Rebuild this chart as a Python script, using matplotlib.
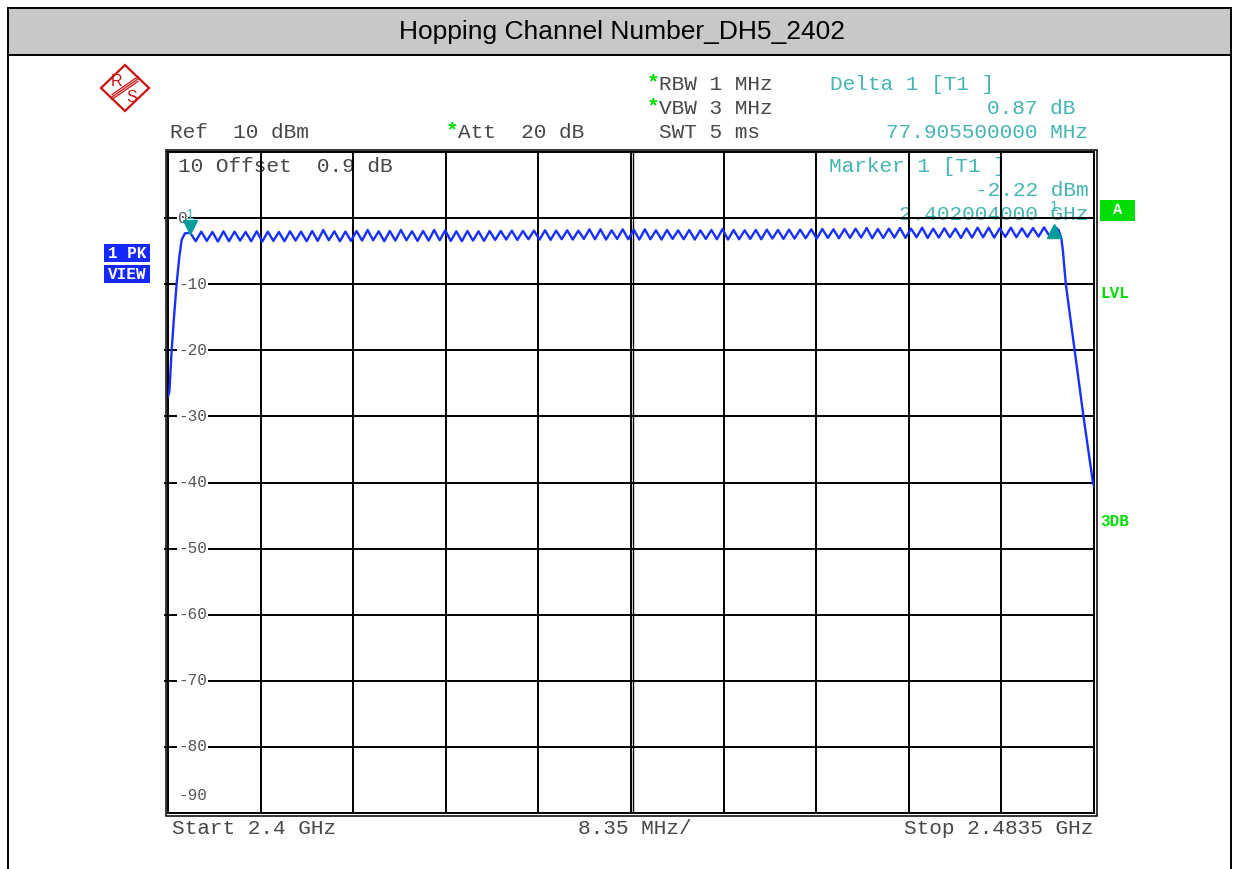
import numpy as np
import matplotlib.pyplot as plt
import matplotlib.transforms as transforms
from matplotlib.patches import Rectangle, Polygon

W, H = 1239, 869

# sweep settings (MHz / dBm)
START_MHZ = 2400.0
STOP_MHZ = 2483.5
REF_LEVEL = 10
BOTTOM_LEVEL = -90

# rising edge below the first channel
edge_left_f = [2400.0, 2400.12, 2400.33, 2400.54, 2400.78, 2401.02, 2401.23, 2401.53]
edge_left_db = [-27.0, -26.3, -20.0, -15.0, -9.9, -5.9, -3.3, -2.3]

# hopping channels 2402..2480 MHz, peak level of each channel
channel_f = list(range(2402, 2481))
peak_db = [-2.22, -2.05, -2.10, -2.00, -2.05, -2.10, -2.00, -2.05, -2.10, -2.00,
           -2.05, -1.95, -1.80, -2.00, -2.05, -1.95, -1.80, -2.00, -1.95, -1.80,
           -2.00, -1.95, -1.80, -1.85, -2.00, -1.95, -2.00, -1.95, -1.95, -1.90,
           -1.95, -1.90, -1.85, -1.90, -1.85, -1.90, -1.70, -1.70, -1.85, -1.70,
           -1.75, -1.70, -1.85, -1.80, -1.85, -1.80, -1.85, -1.80, -1.65, -1.80,
           -1.85, -1.80, -1.75, -1.80, -1.75, -1.75, -1.70, -1.65, -1.70, -1.65,
           -1.60, -1.50, -1.65, -1.60, -1.50, -1.60, -1.45, -1.60, -1.55, -1.60,
           -1.55, -1.45, -1.45, -1.55, -1.45, -1.55, -1.50, -1.40, -1.35]
# level in the gaps between neighbouring channels
dip_db = [-3.50, -3.45, -3.55, -3.50, -3.40, -3.50, -3.55, -3.45, -3.50, -3.40,
          -3.50, -3.45, -3.35, -3.50, -3.45, -3.40, -3.35, -3.50, -3.40, -3.35,
          -3.45, -3.40, -3.35, -3.45, -3.50, -3.40, -3.45, -3.30, -3.25, -3.30,
          -3.20, -3.25, -3.30, -3.20, -3.25, -3.15, -3.20, -3.25, -3.15, -3.20,
          -3.25, -3.20, -3.25, -3.15, -3.20, -3.25, -3.15, -3.20, -3.25, -3.20,
          -3.15, -3.20, -3.10, -3.15, -3.10, -3.05, -3.10, -3.00, -3.05, -3.00,
          -2.95, -3.05, -3.00, -2.95, -3.00, -2.90, -3.00, -2.95, -2.90, -3.00,
          -2.95, -2.90, -2.95, -2.85, -2.90, -2.85, -2.80, -2.75]

# falling edge above the last channel
edge_right_f = [2480.3, 2480.55, 2480.7, 2480.96, 2481.75, 2482.1, 2482.55, 2483.42, 2483.5]
edge_right_db = [-1.8, -3.0, -5.0, -10.0, -20.0, -24.5, -30.0, -40.2, -40.5]

# markers
m1_f, m1_db = 2402.004, -2.22
delta_f, delta_db = 2402.004 + 77.9055, -2.22 + 0.87

ytick_levels = [0, -10, -20, -30, -40, -50, -60, -70, -80]

# colours
GRAY_TXT = "#474747"
TEAL = "#44b4b4"
MARK_TEAL = "#009c9c"
GREEN = "#00dd00"
BLUE_BOX = "#1428ff"
TRACE = "#1530ff"


def buildTrace():
    f = list(edge_left_f)
    db = list(edge_left_db)
    for i in range(len(channel_f)):
        f.append(channel_f[i])
        db.append(peak_db[i])
        if i < len(dip_db):
            f.append(channel_f[i] + 0.5)
            db.append(dip_db[i])
    f += edge_right_f
    db += edge_right_db
    return np.array(f), np.array(db)


fig = plt.figure(figsize=(W / 100, H / 100), dpi=100)
# pixel coordinates, origin top-left
px = transforms.Affine2D().scale(1 / W, -1 / H).translate(0, 1) + fig.transFigure

MONO = "Liberation Mono"
SANS = "Liberation Sans"

# title bar and page frame
fig.patches.append(Rectangle((8, 8), W - 16, 47, transform=px, facecolor="#c8c8c8",
                             edgecolor="black", lw=1.4))
fig.lines.append(plt.Line2D([8, 8], [55, H], transform=px, color="black", lw=1.4))
fig.lines.append(plt.Line2D([W - 8, W - 8], [55, H], transform=px, color="black", lw=1.4))
fig.text(622, 32, "Hopping Channel Number_DH5_2402", transform=px, ha="center", va="center",
         fontsize=19, family=SANS, color="black")

# R&S logo
logo_red = "#cc1010"
fig.patches.append(Polygon([(101, 88), (125, 65), (149, 88), (125, 111)], closed=True,
                           transform=px, fill=False, edgecolor=logo_red, lw=1.6))
for d in (-2.4, 0, 2.4):
    fig.lines.append(plt.Line2D([112, 138], [97 + d, 79 + d], transform=px,
                                color=logo_red, lw=0.9))
fig.text(117, 81, "R", transform=px, ha="center", va="center", fontsize=11.5,
         family=SANS, color=logo_red)
fig.text(132, 97, "S", transform=px, ha="center", va="center", fontsize=11.5,
         family=SANS, color=logo_red)

# header settings
FS = 15.2
fig.text(170, 132, "Ref  10 dBm", transform=px, va="center", fontsize=FS, family=MONO, color=GRAY_TXT)
for y, s in ((84, "RBW 1 MHz"), (108, "VBW 3 MHz")):
    fig.text(647, y - 1, "*", transform=px, va="center", fontsize=FS, family=MONO, color=GREEN,
             fontweight="bold")
    fig.text(659, y, s, transform=px, va="center", fontsize=FS, family=MONO, color=GRAY_TXT)
fig.text(446, 131, "*", transform=px, va="center", fontsize=FS, family=MONO, color=GREEN,
         fontweight="bold")
fig.text(458, 132, "Att  20 dB", transform=px, va="center", fontsize=FS, family=MONO, color=GRAY_TXT)
fig.text(659, 132, "SWT 5 ms", transform=px, va="center", fontsize=FS, family=MONO, color=GRAY_TXT)

fig.text(830, 84, "Delta 1 [T1 ]", transform=px, va="center", fontsize=FS, family=MONO, color=TEAL)
fig.text(1075, 108, "%.2f dB" % (delta_db - m1_db), transform=px, va="center", ha="right",
         fontsize=FS, family=MONO, color=TEAL)
fig.text(1088, 132, "%.9f MHz" % (delta_f - m1_f), transform=px, va="center", ha="right",
         fontsize=FS, family=MONO, color=TEAL)

# bottom annotation
fig.text(172, 829, "Start 2.4 GHz", transform=px, va="center", fontsize=FS, family=MONO, color=GRAY_TXT)
fig.text(578, 829, "8.35 MHz/", transform=px, va="center", fontsize=FS, family=MONO, color=GRAY_TXT)
fig.text(1093, 829, "Stop 2.4835 GHz", transform=px, va="center", ha="right", fontsize=FS,
         family=MONO, color=GRAY_TXT)

# side tags
for y0, s in ((244, "1 PK"), (265, "VIEW")):
    fig.patches.append(Rectangle((104, y0), 46, 18, transform=px, facecolor=BLUE_BOX, edgecolor="none"))
    fig.text(127, y0 + 9.5, s, transform=px, ha="center", va="center", fontsize=11.5,
             family=MONO, fontweight="bold", color="white")
fig.patches.append(Rectangle((1100, 200), 35, 21, transform=px, facecolor=GREEN, edgecolor="none"))
fig.text(1117.5, 210.5, "A", transform=px, ha="center", va="center", fontsize=11,
         family=MONO, fontweight="bold", color="white")
fig.text(1100, 293, "LVL", transform=px, va="center", fontsize=11.5, family=MONO,
         fontweight="bold", color=GREEN)
fig.text(1100, 521, "3DB", transform=px, va="center", fontsize=11.5, family=MONO,
         fontweight="bold", color=GREEN)

# diagram
left, right, top, bottom = 168, 1094, 152, 813
ax = fig.add_axes([left / W, 1 - bottom / H, (right - left) / W, (bottom - top) / H])
ax.set_xlim(START_MHZ, STOP_MHZ)
ax.set_ylim(BOTTOM_LEVEL, REF_LEVEL)
ax.set_xticks(np.linspace(START_MHZ, STOP_MHZ, 11))
ax.set_yticks(ytick_levels)
ax.set_xticklabels([])
ax.set_yticklabels([])
ax.tick_params(axis="x", length=0)
ax.tick_params(axis="y", length=3, width=1.3, color="black", direction="out")
ax.set_axisbelow(False)
ax.grid(True, color="black", lw=1.4)
for s in ax.spines.values():
    s.set_linewidth(1.4)
    s.set_color("black")

# double centre line and double frame
mid = (START_MHZ + STOP_MHZ) / 2
ax.plot([mid, mid], [0, 1], color="black", lw=1.0, zorder=2.5,
        transform=transforms.offset_copy(ax.get_xaxis_transform(), fig=fig, x=2.5, units="dots"))
fig.patches.append(Rectangle((left - 2.5, top - 2.5), right - left + 5, bottom - top + 5,
                             transform=px, fill=False, edgecolor="black", lw=1.1))

# level labels along the left edge
ylab = transforms.blended_transform_factory(ax.transAxes, ax.transData)
for lv in ytick_levels:
    ax.text(10 / (right - left), lv, "%d" % lv if lv else "0", transform=ylab, ha="left",
            va="center", fontsize=11.5, family=MONO, color="#555555", zorder=2.8,
            bbox=dict(facecolor="white", edgecolor="none", pad=0.6))
ax.text(10 / (right - left), BOTTOM_LEVEL + 2.7, "%d" % BOTTOM_LEVEL, transform=ylab, ha="left",
        va="center", fontsize=11.5, family=MONO, color="#555555", zorder=2.8)

# in-diagram info, drawn below the grid
ax.text(178, 166, "10 Offset  0.9 dB", transform=px, va="center", fontsize=FS, family=MONO,
        color=GRAY_TXT, zorder=1)
ax.text(829, 167, "Marker 1 [T1 ]", transform=px, va="center", fontsize=FS, family=MONO,
        color=TEAL, zorder=1)
ax.text(1089, 191, "%.2f dBm" % m1_db, transform=px, va="center", ha="right", fontsize=FS,
        family=MONO, color=TEAL, zorder=1)
ax.text(1088, 215, "%.9f GHz" % (m1_f / 1000), transform=px, va="center", ha="right",
        fontsize=FS, family=MONO, color=TEAL, zorder=1)

# trace
tf, tdb = buildTrace()
ax.plot(tf, tdb, color=TRACE, lw=1.7, zorder=3, solid_joinstyle="round")

# markers
ax.plot([m1_f], [m1_db], marker="v", ms=10, color=MARK_TEAL, zorder=4,
        transform=transforms.offset_copy(ax.transData, fig=fig, y=6, units="dots"))
ax.plot([delta_f], [delta_db], marker="^", ms=10, color=MARK_TEAL, zorder=4,
        transform=transforms.offset_copy(ax.transData, fig=fig, y=-4, units="dots"))
ax.annotate("1", (m1_f, m1_db), xytext=(0, 18), textcoords="offset pixels", ha="center",
            va="center", fontsize=11, family=SANS, color=TEAL, zorder=4)
ax.annotate("1", (delta_f, delta_db), xytext=(0, 20), textcoords="offset pixels", ha="center",
            va="center", fontsize=11, family=SANS, color=TEAL, zorder=4)

fig.savefig("out.png", dpi=100)
